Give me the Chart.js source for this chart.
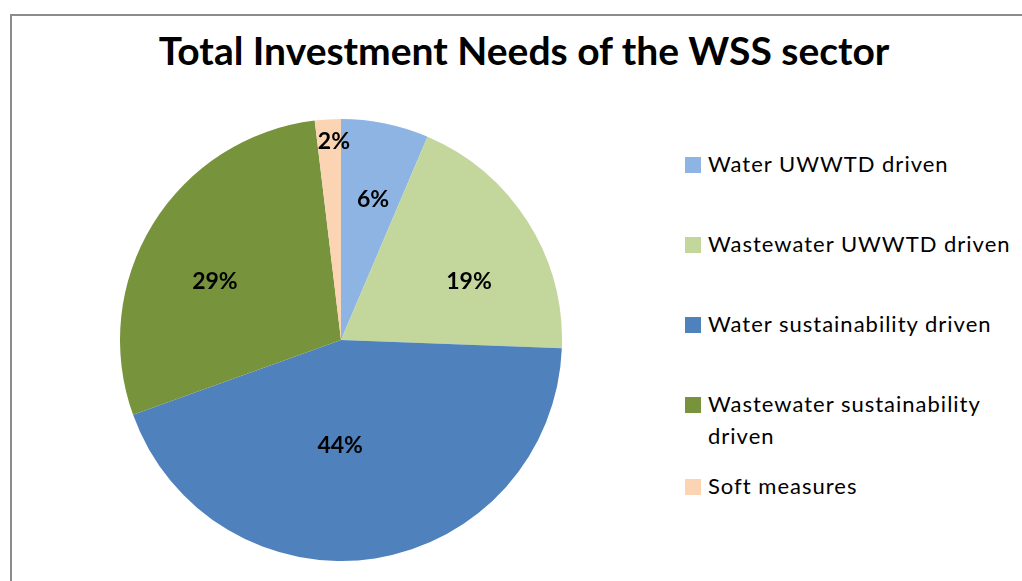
<!DOCTYPE html>
<html>
<head>
<meta charset="utf-8">
<script src="https://cdn.jsdelivr.net/npm/chart.js@4"></script>
<style>
  html, body { margin: 0; padding: 0; background: #fff; width: 1022px; height: 581px; overflow: hidden; }
  #frame { position: absolute; left: 10px; top: 14px; width: 1100px; height: 700px; border: 2px solid #8c8c8c; box-sizing: border-box; }
  #title { position: absolute; left: 0; top: 27px; width: 1048px; text-align: center; font-family: Lato, "Open Sans", sans-serif; font-weight: bold; font-size: 39px; color: #000; white-space: nowrap; letter-spacing: 0px; }
  #chartBox { position: absolute; left: 120px; top: 119px; width: 442px; height: 442px; }
  #legend { position: absolute; left: 685px; top: 0; font-family: Lato, "Open Sans", sans-serif; font-size: 22px; color: #000; letter-spacing: 1px; }
  .item { position: absolute; left: 0; white-space: nowrap; line-height: 32px; }
  .sw { position: absolute; left: 0; top: 9px; width: 16px; height: 16px; }
  .tx { position: absolute; left: 23px; top: 0; }
</style>
</head>
<body>
<div id="frame"></div>
<div id="title">Total Investment Needs of the WSS sector</div>
<div id="chartBox"><canvas id="c" width="442" height="442"></canvas></div>
<div id="legend"></div>
<script>
const categories = ["Water UWWTD driven", "Wastewater UWWTD driven", "Water sustainability driven", "Wastewater sustainability driven", "Soft measures"];
const legendLines = [["Water UWWTD driven"], ["Wastewater UWWTD driven"], ["Water sustainability driven"], ["Wastewater sustainability", "driven"], ["Soft measures"]];
const values = [6.4, 19.2, 43.9, 28.6, 1.9];
const pctLabels = ["6%", "19%", "44%", "29%", "2%"];
const colors = ["#8EB4E3", "#C3D69B", "#4F81BD", "#77933C", "#FBD4B4"];

// label radial positions (fraction of radius) and angular nudge, to mimic Excel placement
const labelRadius = [0.654, 0.636, 0.48, 0.628, 0.9];
const labelAngleShift = [0.023, 0.14, 0.162, -0.122, 0.024];

const labelPlugin = {
  id: 'pctLabels',
  afterDatasetsDraw(chart) {
    const ctx = chart.ctx;
    const meta = chart.getDatasetMeta(0);
    ctx.save();
    ctx.font = 'bold 23px Lato, "Open Sans", sans-serif';
    ctx.fillStyle = '#000';
    ctx.textAlign = 'center';
    ctx.textBaseline = 'middle';
    meta.data.forEach((arc, i) => {
      const p = arc.getProps(['x', 'y', 'startAngle', 'endAngle', 'outerRadius']);
      const mid = (p.startAngle + p.endAngle) / 2 + labelAngleShift[i];
      const r = p.outerRadius * labelRadius[i];
      ctx.fillText(pctLabels[i], p.x + Math.cos(mid) * r, p.y + Math.sin(mid) * r);
    });
    ctx.restore();
  }
};

new Chart(document.getElementById('c'), {
  type: 'pie',
  data: {
    labels: categories,
    datasets: [{ data: values, backgroundColor: colors, borderWidth: 0 }]
  },
  options: {
    responsive: false,
    animation: false,
    layout: { padding: 0 },
    plugins: { legend: { display: false }, tooltip: { enabled: false }, title: { display: false } }
  },
  plugins: [labelPlugin]
});

// legend
const legendTops = [148, 228, 308, 388, 470];
const legend = document.getElementById('legend');
categories.forEach((cat, i) => {
  const it = document.createElement('div');
  it.className = 'item';
  it.style.top = legendTops[i] + 'px';
  const sw = document.createElement('div');
  sw.className = 'sw';
  sw.style.background = colors[i];
  const tx = document.createElement('div');
  tx.className = 'tx';
  tx.innerHTML = legendLines[i].join('<br>');
  it.appendChild(sw); it.appendChild(tx);
  legend.appendChild(it);
});
</script>
</body>
</html>
